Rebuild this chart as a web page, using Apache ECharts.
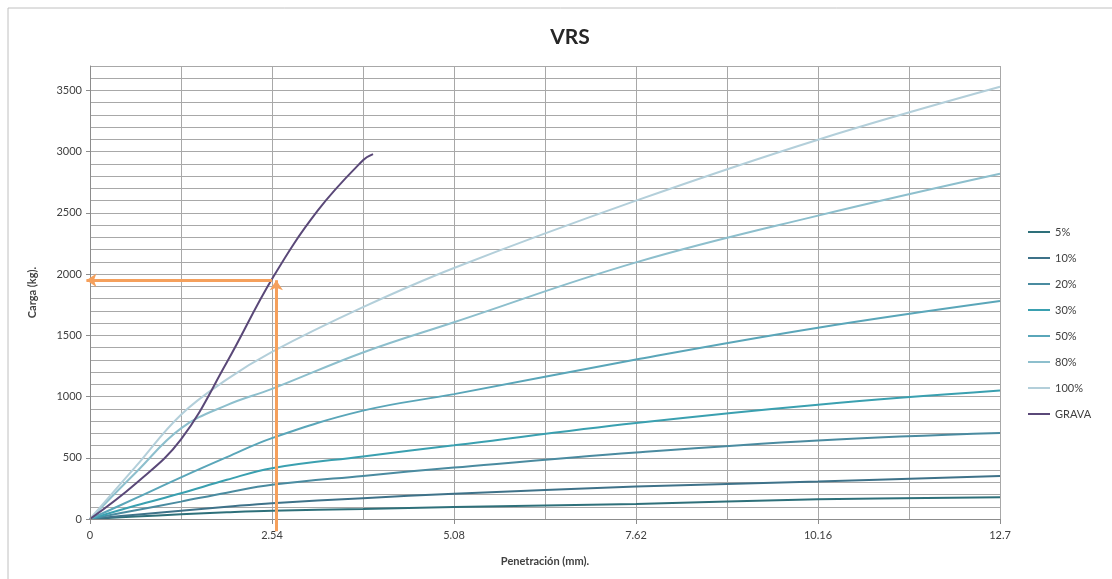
<!DOCTYPE html>
<html>
<head>
<meta charset="utf-8">
<script src="https://cdn.jsdelivr.net/npm/echarts@6/dist/echarts.min.js"></script>
<style>
html,body{margin:0;padding:0;background:#fff;}
#chart{width:1112px;height:579px;}
</style>
</head>
<body>
<div id="chart"></div>
<script>
// Penetration (mm) of the readings
const penetration = [0, 0.64, 1.27, 1.91, 2.54, 3.81, 5.08, 7.62, 10.16, 12.7];
// Load (kg) per compaction series
const s5   = [0, 20, 38, 55, 68, 82, 97, 123, 161, 178];
const s10  = [0, 35, 68, 100, 129, 170, 206, 265, 306, 352];
const s20  = [0, 72, 142, 215, 279, 352, 420, 543, 642, 702];
const s30  = [0, 110, 210, 320, 415, 511, 602, 784, 934, 1049];
const s50  = [0, 170, 340, 505, 661, 885, 1020, 1303, 1563, 1781];
const s80  = [0, 380, 740, 930, 1063, 1360, 1607, 2096, 2478, 2820];
const s100 = [0, 430, 852, 1140, 1365, 1730, 2050, 2600, 3098, 3530];
// GRAVA sample
const gravaPen  = [0, 0.64, 1.27, 1.91, 2.54, 3.18, 3.81, 3.95];
const gravaLoad = [0, 290, 650, 1280, 1960, 2520, 2930, 2980];
// Series names
const seriesNames = ['5%', '10%', '20%', '30%', '50%', '80%', '100%', 'GRAVA'];
// Tick labels
const xTickLabels = [0, 2.54, 5.08, 7.62, 10.16, 12.7];
const yTickLabels = [0, 500, 1000, 1500, 2000, 2500, 3000, 3500];
// Reading arrows (design load at 2.54 mm)
const arrowPenX = 2.6;
const arrowPenStart = -100;
const arrowLoad = 1950;
const arrowLeftStart = 2.54;
const arrowLeftEnd = -0.05;

const colors = ['#2E707A', '#3E7289', '#4A8BA0', '#3AA0B0', '#5AA6B9', '#8DBFCD', '#B3CFDA', '#5A4878'];
const FONT = 'Lato, "Liberation Sans", sans-serif';

function pairs(xs, ys) { return xs.map((x, i) => [x, ys[i]]); }
const allLoads = [s5, s10, s20, s30, s50, s80, s100];

const series = allLoads.map((ys, i) => ({
  name: seriesNames[i],
  type: 'line',
  xAxisIndex: 0,
  yAxisIndex: 0,
  data: pairs(penetration, ys),
  smooth: 0.4,
  showSymbol: false,
  symbol: 'none',
  lineStyle: { width: 2, color: colors[i] },
  itemStyle: { color: colors[i] },
  z: 2
}));
series.push({
  name: 'GRAVA',
  type: 'line',
  xAxisIndex: 0,
  yAxisIndex: 0,
  data: pairs(gravaPen, gravaLoad),
  smooth: 0.4,
  showSymbol: false,
  symbol: 'none',
  lineStyle: { width: 2, color: colors[7] },
  itemStyle: { color: colors[7] },
  z: 3
});
series.push({
  name: 'arrows',
  type: 'lines',
  coordinateSystem: 'cartesian2d',
  xAxisIndex: 0,
  yAxisIndex: 0,
  clip: false,
  silent: true,
  symbol: ['none', 'arrow'],
  symbolSize: 10,
  lineStyle: { color: '#F5A05C', width: 3, opacity: 1 },
  data: [
    { coords: [[arrowPenX, arrowPenStart], [arrowPenX, arrowLoad]] },
    { coords: [[arrowLeftStart, arrowLoad], [arrowLeftEnd, arrowLoad]] }
  ],
  z: 5
});

const gridAxisCommon = {
  axisLine: { show: false },
  axisTick: { show: false },
  axisLabel: { show: false },
  splitLine: { show: true, lineStyle: { color: '#a8a8a8', width: 1 } }
};

const chart = echarts.init(document.getElementById('chart'), null, { renderer: 'canvas' });
chart.setOption({
  animation: false,
  backgroundColor: '#fff',
  textStyle: { fontFamily: FONT },
  title: {
    text: 'VRS',
    left: 565,
    top: 22,
    textAlign: 'center',
    textStyle: { fontFamily: FONT, fontSize: 21, fontWeight: 'bold', color: '#262626' }
  },
  legend: {
    data: seriesNames,
    orient: 'vertical',
    left: 1023,
    top: 220,
    icon: 'rect',
    itemWidth: 22,
    itemHeight: 2,
    itemGap: 12,
    textStyle: { fontFamily: FONT, fontSize: 11, color: '#404040', lineHeight: 14 }
  },
  graphic: [{
    type: 'rect',
    shape: { x: 8, y: 8, width: 1120, height: 600 },
    style: { fill: 'none', stroke: '#c0c0c0', lineWidth: 1 },
    silent: true,
    z: -1
  }],
  grid: { left: 90, right: 112, top: 66, bottom: 60, containLabel: false },
  xAxis: [{
    type: 'value',
    min: 0,
    max: 12.7,
    interval: 1.27,
    name: 'Penetración (mm).',
    nameLocation: 'middle',
    nameGap: 37,
    nameTextStyle: { fontFamily: FONT, fontSize: 11, fontWeight: 'bold', color: '#404040' },
    axisLine: { show: true, lineStyle: { color: '#8c8c8c', width: 1 } },
    axisTick: { show: true, length: 5, customValues: xTickLabels, lineStyle: { color: '#8c8c8c' } },
    axisLabel: { customValues: xTickLabels, formatter: v => String(v), fontFamily: FONT, fontSize: 11, color: '#404040', margin: 11 },
    splitLine: { show: false },
    z: 4
  }, Object.assign({
    type: 'value',
    min: 0,
    max: 12.7,
    interval: 1.27,
    position: 'bottom'
  }, gridAxisCommon)],
  yAxis: [{
    type: 'value',
    min: 0,
    max: 3700,
    interval: 100,
    name: 'Carga (kg).',
    nameLocation: 'middle',
    nameGap: 52,
    nameTextStyle: { fontFamily: FONT, fontSize: 11, fontWeight: 'bold', color: '#404040' },
    axisLine: { show: true, lineStyle: { color: '#8c8c8c', width: 1 } },
    axisTick: { show: true, length: 4, customValues: yTickLabels, lineStyle: { color: '#8c8c8c' } },
    axisLabel: { customValues: yTickLabels, formatter: v => String(v), fontFamily: FONT, fontSize: 11, color: '#404040', margin: 8 },
    splitLine: { show: false },
    z: 4
  }, Object.assign({
    type: 'value',
    min: 0,
    max: 3700,
    interval: 100,
    position: 'left'
  }, gridAxisCommon)],
  series: series
});
</script>
</body>
</html>
